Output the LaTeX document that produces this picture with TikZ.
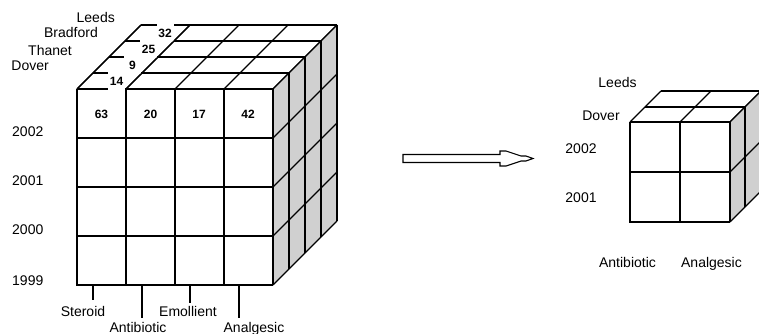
\documentclass[tikz,border=0pt]{standalone}
\usepackage{fontspec}
\setmainfont{Liberation Sans}
\definecolor{sidegray}{RGB}{208,208,208}
\begin{document}
\begin{tikzpicture}[x=1pt,y=-1pt,
  edge/.style={line width=1.1pt, line join=miter},
  thickedge/.style={line width=2.2pt},
  lab/.style={font=\fontsize{14}{16}\selectfont, inner sep=0pt},
  num/.style={font=\fontsize{12}{14}\selectfont\bfseries, inner sep=0pt},
  cutbox/.style={fill=white, minimum width=17pt, minimum height=18pt, inner sep=0pt},
  tick/.style={line width=1.1pt}]
\useasboundingbox (0,0) rectangle (759,334);

% ---------- big cube ----------
% top face
\fill[white] (77,89) -- (273,89) -- (337,25) -- (141,25) -- cycle;
\foreach \k in {0,...,4} \draw[edge] ({77+16*\k},{89-16*\k}) -- ({273+16*\k},{89-16*\k});
\foreach \i in {0,...,4} \draw[edge] ({77+49*\i},89) -- ({141+49*\i},25);
% right face
\fill[sidegray] (273,89) -- (337,25) -- (337,221) -- (273,285) -- cycle;
\foreach \j in {0,...,4} \draw[edge] (273,{89+49*\j}) -- (337,{25+49*\j});
\foreach \k in {0,...,4} \draw[edge] ({273+16*\k},{89-16*\k}) -- ({273+16*\k},{285-16*\k});
% front face
\fill[white] (77,89) rectangle (273,285);
\foreach \i in {0,...,4} \draw[edge] ({77+49*\i},89) -- ({77+49*\i},285);
\foreach \j in {0,...,4} \draw[edge] (77,{89+49*\j}) -- (273,{89+49*\j});
\draw[thickedge] (77,89) -- (77,286);

% top-face values (white boxes cut the lines)
\node[cutbox,num] (t14) at (116.5,81) {14};
\node[cutbox,num] (t9)  at (132.5,65) {9};
\node[cutbox,num] (t25) at (148.5,49) {25};
\node[cutbox,num] (t32) at (165,33) {32};
\draw[edge] (77,89) -- (141,25);
\draw[edge] (126,89) -- (190,25);

% front values
\node[num] (v63) at (101.5,114) {63};
\node[num] (v20) at (150.5,114) {20};
\node[num] (v17) at (199,114) {17};
\node[num] (v42) at (248,114) {42};

% location labels
\node[lab,anchor=base east] (leeds)    at (115,23) {Leeds};
\node[lab,anchor=base east] (bradford) at (98,38)  {Bradford};
\node[lab,anchor=base east] (thanet)   at (72,56)  {Thanet};
\node[lab,anchor=base east] (dover)    at (49,71)  {Dover};

% years
\node[lab,anchor=base west] (y2002) at (12,136) {2002};
\node[lab,anchor=base west] (y2001) at (12,185) {2001};
\node[lab,anchor=base west] (y2000) at (12,234) {2000};
\node[lab,anchor=base west] (y1999) at (12,285) {1999};

% product ticks and labels
\draw[tick] (93,285) -- (93,300);
\draw[tick] (142,285) -- (142,318);
\draw[tick] (190,285) -- (190,303);
\draw[tick] (239,285) -- (239,318);
\node[lab,anchor=base] (steroid)   at (83,316.5)  {Steroid};
\node[lab,anchor=base] (antib)     at (138,332)   {Antibiotic};
\node[lab,anchor=base] (emoll)     at (188,316.5) {Emollient};
\node[lab,anchor=base] (analg)     at (254,332)   {Analgesic};

% ---------- arrow ----------
\draw[edge,fill=white] (403,154.5) -- (500,154.5) -- (500,151) -- (506,151) -- (521,156)
  -- (526,156) -- (533,158.5) -- (526,161) -- (521,161) -- (506,166) -- (500,166)
  -- (500,162.5) -- (403,162.5) -- cycle;

% ---------- small cube ----------
\fill[white] (630,122) -- (730,122) -- (761,91) -- (661,91) -- cycle;
\foreach \d in {0,15,31} \draw[edge] ({630+\d},{122-\d}) -- ({730+\d},{122-\d});
\foreach \i in {0,1,2} \draw[edge] ({630+50*\i},122) -- ({661+50*\i},91);
\fill[sidegray] (730,122) -- (761,91) -- (761,191) -- (730,222) -- cycle;
\foreach \j in {0,1,2} \draw[edge] (730,{122+50*\j}) -- (761,{91+50*\j});
\foreach \d in {0,15,31} \draw[edge] ({730+\d},{122-\d}) -- ({730+\d},{222-\d});
\fill[white] (630,122) rectangle (730,222);
\foreach \i in {0,1,2} \draw[edge] ({630+50*\i},122) -- ({630+50*\i},222);
\foreach \j in {0,1,2} \draw[edge] (630,{122+50*\j}) -- (730,{122+50*\j});
\draw[thickedge] (630,122) -- (630,223);

\node[lab,anchor=base] (sleeds) at (617.5,88)  {Leeds};
\node[lab,anchor=base] (sdover) at (601,121)   {Dover};
\node[lab,anchor=base] (s2002)  at (581,153)   {2002};
\node[lab,anchor=base] (s2001)  at (581,202)   {2001};
\node[lab,anchor=base] (santib) at (627.5,267) {Antibiotic};
\node[lab,anchor=base] (sanalg) at (711.5,267) {Analgesic};
\end{tikzpicture}
\end{document}
